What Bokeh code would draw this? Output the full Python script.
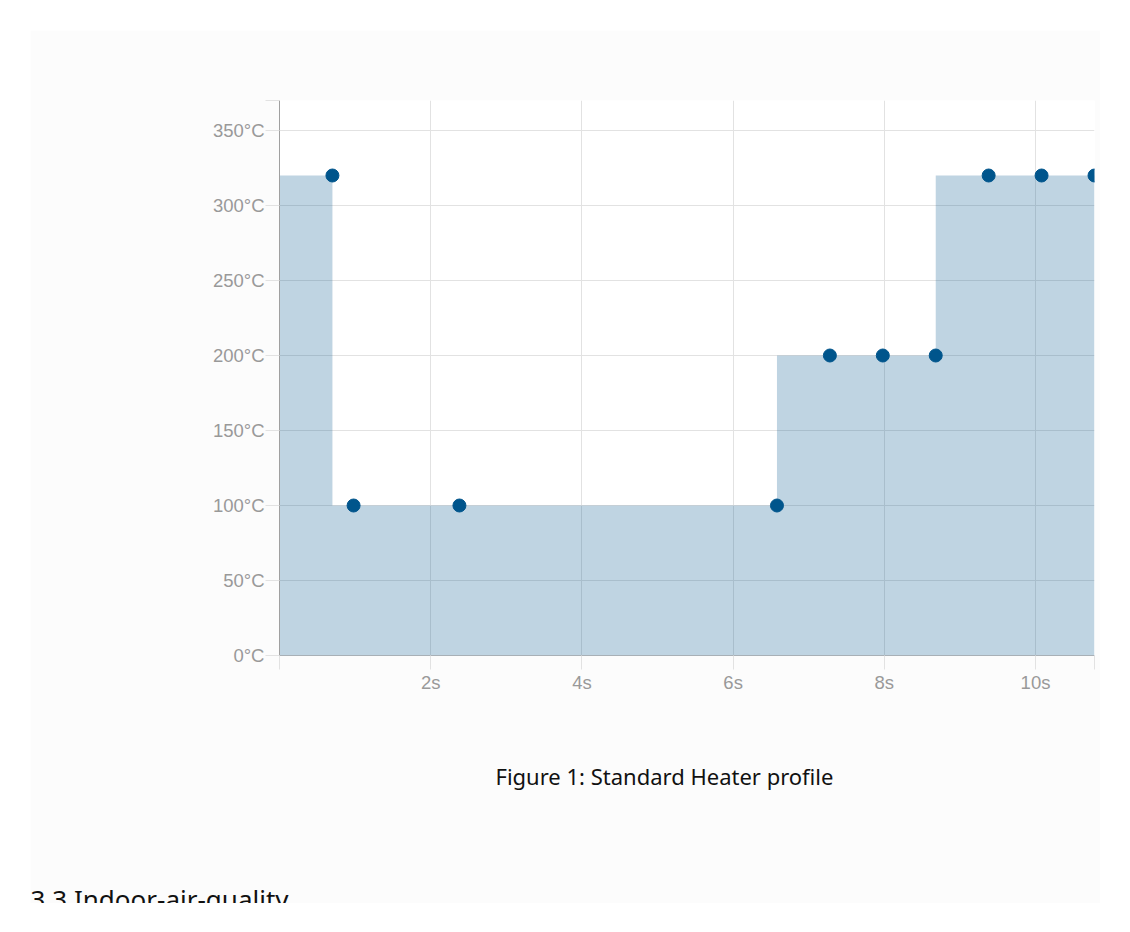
import numpy as np
import bokeh.plotting as bkp
from bokeh.embed import file_html
from bokeh.models import (ColumnDataSource, CustomJSTickFormatter, FixedTicker, InlineStyleSheet,
                          Range1d, Title)
from bokeh.resources import INLINE

# Standard heater profile: one temperature per step, step lengths in ms
step_temps = [320, 100, 100, 100, 200, 200, 200, 320, 320, 320]
step_durations_ms = [700, 280, 1400, 4200, 700, 700, 700, 700, 700, 700]

y_ticks = [0, 50, 100, 150, 200, 250, 300, 350]
x_ticks = [2, 4, 6, 8, 10]

caption_text = "Figure 1: Standard Heater profile"
heading_text = "3.3 Indoor-air-quality"

BLUE = "#00558c"
GRID = "#e2e2e2"
LABEL = "#999999"


def make_figure():
    step_ends = np.cumsum(step_durations_ms) / 1000.0
    x_end = float(step_ends[-1])
    y_end = 370

    figure = bkp.figure(
        frame_width=815, frame_height=555,
        x_range=Range1d(0, x_end), y_range=Range1d(0, y_end),
        output_backend="svg", toolbar_location=None,
        min_border_left=249, min_border_right=6,
        min_border_top=70, min_border_bottom=0,
    )
    figure.margin = (30, 0, 0, 30)
    # The page panel ends below the caption and cuts the next heading off
    figure.stylesheets = [InlineStyleSheet(
        css=":host { height: 873px !important; max-height: 873px !important; overflow: hidden !important; }")]
    figure.border_fill_color = "#fcfcfc"
    figure.background_fill_color = "#ffffff"
    figure.outline_line_color = None

    # Filled step area; each temperature holds until the end of its step
    area = ColumnDataSource(dict(x=[0.0] + list(step_ends), y=[step_temps[0]] + step_temps))
    figure.varea_step(x='x', y1=0, y2='y', source=area, step_mode='before',
                      fill_color=BLUE, fill_alpha=0.25)

    points = ColumnDataSource(dict(x=step_ends, y=step_temps))
    figure.scatter(x='x', y='y', source=points, size=13, color=BLUE)

    # Edges of the range get a grid line and tick too, but no label
    figure.xaxis.ticker = FixedTicker(ticks=[0] + x_ticks + [x_end])
    figure.yaxis.ticker = FixedTicker(ticks=y_ticks + [y_end])
    figure.xaxis.formatter = CustomJSTickFormatter(
        args=dict(shown=x_ticks), code="return shown.includes(tick) ? tick + 's' : ''")
    figure.yaxis.formatter = CustomJSTickFormatter(
        args=dict(shown=y_ticks), code="return shown.includes(tick) ? tick + '°C' : ''")

    for axis in (figure.xaxis, figure.yaxis):
        axis.major_tick_in = 0
        axis.major_tick_out = 14
        axis.major_tick_line_color = GRID
        axis.minor_tick_line_color = None
        axis.major_label_text_font = "Liberation Sans"
        axis.major_label_text_font_size = "18.5px"
        axis.major_label_text_color = LABEL
    figure.yaxis.axis_line_color = "#a0a0a0"
    figure.xaxis.axis_line_color = "#a8b0b6"
    figure.yaxis.major_label_standoff = 1
    figure.xaxis.major_label_standoff = 2

    figure.grid.grid_line_color = GRID

    # Caption under the chart, then the next document heading
    figure.add_layout(Title(text=caption_text, align="left", offset=216,
                            vertical_align="bottom", standoff=126,
                            text_font="Noto Sans", text_font_size="22px",
                            text_font_style="normal", text_color="#111111"), "below")
    figure.add_layout(Title(text=heading_text, align="left", offset=-249,
                            vertical_align="bottom", standoff=50,
                            text_font="Noto Sans", text_font_size="26px",
                            text_font_style="normal", text_color="#111111"), "below")
    return figure


p = make_figure()
open("out.html", "w").write(file_html(p, INLINE, title="Standard Heater profile"))
